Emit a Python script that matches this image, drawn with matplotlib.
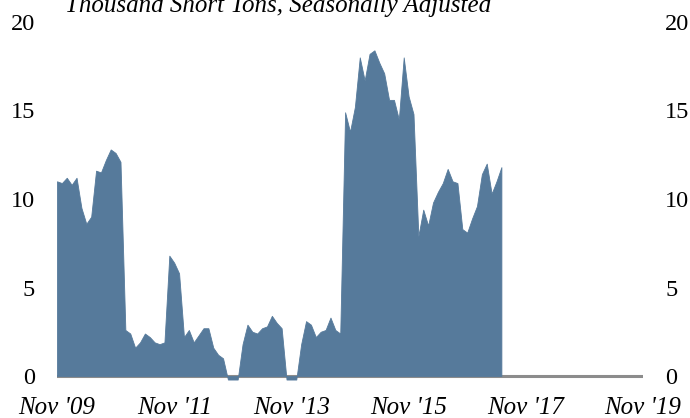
import matplotlib
matplotlib.use("Agg")
import matplotlib.pyplot as plt
import numpy as np

# Monthly values, Nov 2009 through Jun 2017 (thousand short tons, SA)
values = [
    11.0, 10.9, 11.2, 10.8, 11.2, 9.5, 8.6, 9.0, 11.6, 11.5, 12.2, 12.8,
    12.6, 12.1, 2.6, 2.4, 1.6, 1.9, 2.4, 2.2, 1.9, 1.8, 1.9, 6.8,
    6.4, 5.8, 2.2, 2.6, 1.9, 2.3, 2.7, 2.7, 1.6, 1.2, 1.0, -0.2,
    -0.2, -0.2, 1.8, 2.9, 2.5, 2.4, 2.7, 2.8, 3.4, 3.0, 2.7, -0.2,
    -0.2, -0.2, 1.8, 3.1, 2.9, 2.2, 2.5, 2.6, 3.3, 2.6, 2.4, 14.9,
    13.8, 15.2, 18.0, 16.7, 18.2, 18.4, 17.7, 17.1, 15.6, 15.6, 14.5, 18.0,
    15.8, 14.8, 7.9, 9.4, 8.5, 9.8, 10.4, 10.9, 11.7, 11.0, 10.9, 8.3,
    8.1, 8.9, 9.6, 11.4, 12.0, 10.3, 11.0, 11.8,
]
tick_labels = ["Nov '09", "Nov '11", "Nov '13", "Nov '15", "Nov '17", "Nov '19"]
y_ticks = [0, 5, 10, 15, 20]
title = "Thousand Short Tons, Seasonally Adjusted"

months = np.arange(len(values))
tick_pos = np.arange(0, 121, 24)

W, H = 690, 418
fig = plt.figure(figsize=(W / 100, H / 100), dpi=100)

# axes geometry in pixels: x from 57 to 643, y=20 at 22px, y=0 at 376px
ymin, ymax = -0.5, 20
px_per_unit = (376 - 22) / 20
top_px = 22
bottom_px = 376 - ymin * px_per_unit
left_px, right_px = 57, 643
ax = fig.add_axes([left_px / W, 1 - bottom_px / H,
                   (right_px - left_px) / W, (bottom_px - top_px) / H])

fill_color = "#567A9B"
ax.axhline(0, color="#8C8C8C", lw=2.2, zorder=1)
ax.fill_between(months, 0, values, color=fill_color, lw=0.6,
                edgecolor=fill_color, zorder=2)

ax.set_xlim(0, 120)
ax.set_ylim(ymin, ymax)
for s in ax.spines.values():
    s.set_visible(False)

serif = ["Liberation Serif", "DejaVu Serif"]
ax.set_xticks(tick_pos)
ax.set_xticklabels(tick_labels, fontfamily=serif, fontstyle="italic", fontsize=18)
ax.tick_params(axis="x", length=0, pad=9)

ax.set_yticks(y_ticks)
ax.set_yticklabels([str(v) for v in y_ticks], fontfamily=serif, fontsize=17.5)
ax.tick_params(axis="y", length=0, pad=16, left=True, right=True,
               labelleft=True, labelright=True)

fig.text(278 / W, 1 - 12 / H, title, ha="center", va="baseline",
         fontfamily=serif, fontstyle="italic", fontsize=18)

fig.savefig("out.png", dpi=100)
